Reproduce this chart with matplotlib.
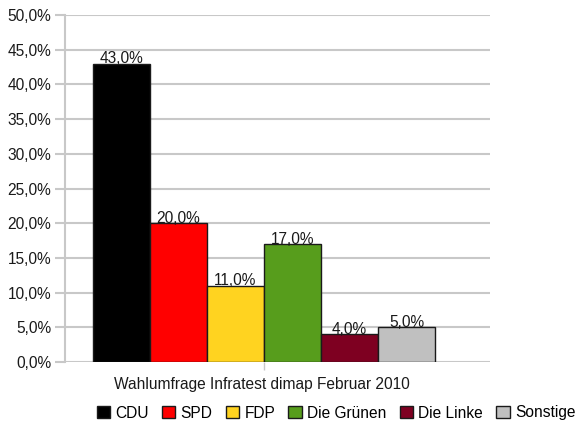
import matplotlib
matplotlib.use("Agg")
import matplotlib.pyplot as plt
from matplotlib.patches import Patch

parties = ["CDU", "SPD", "FDP", "Die Grünen", "Die Linke", "Sonstige"]
values = [43.0, 20.0, 11.0, 17.0, 4.0, 5.0]
colors = ["#000000", "#ff0000", "#ffd320", "#579d1c", "#7e0021", "#c0c0c0"]
yticks = [0, 5, 10, 15, 20, 25, 30, 35, 40, 45, 50]
title = "Wahlumfrage Infratest dimap Februar 2010"

FS = 11.2
plt.rcParams['font.family'] = ['Liberation Sans', 'DejaVu Sans']
fig = plt.figure(figsize=(5.76, 4.26), dpi=100)
ax = fig.add_axes([65/576, 1-362/426, (490-65)/576, (362-15)/426])

x = list(range(len(parties)))
bars = ax.bar(x, values, width=1.0, color=colors, edgecolor="#1a1a1a", linewidth=1.0, zorder=3)
for xi, v in zip(x, values):
    ax.annotate(f"{v:.1f}%".replace(".", ","), (xi, v), xytext=(0, -1.8),
                textcoords="offset points", ha="center", va="bottom",
                fontsize=FS, color="#1a1a1a", zorder=4)

ax.set_ylim(0, 50)
ax.set_xlim(-0.5 - 28/57, 5.5 + 55/57)
ax.set_yticks(yticks)
ax.set_yticklabels([f"{t:.1f}%".replace(".", ",") for t in yticks], fontsize=FS, color="#1a1a1a")
ax.yaxis.grid(True, color="#c8c8c8", linewidth=1.5, zorder=0)
ax.tick_params(axis="y", length=7, width=1.5, color="#c8c8c8", pad=3)
ax.set_xticks([2.5])
ax.set_xticklabels([""])
ax.tick_params(axis="x", length=6, width=1.0, color="#c8c8c8")
for s in ["top", "right", "bottom"]:
    ax.spines[s].set_visible(False)
ax.spines["left"].set_color("#c8c8c8")
ax.spines["left"].set_linewidth(1.5)

fig.text(262/576, 1-384/426, title, ha="center", va="center", fontsize=FS, color="#1a1a1a")

handles = [Patch(facecolor=c, edgecolor="#1a1a1a", linewidth=1.0) for c in colors]
fig.legend(handles, parties, loc="center", bbox_to_anchor=(336/576, 1-413/426), ncol=6,
           frameon=False, fontsize=FS, handlelength=0.85, handleheight=0.85,
           handletextpad=0.35, columnspacing=0.85, borderaxespad=0)

fig.savefig("out.png", dpi=100)
